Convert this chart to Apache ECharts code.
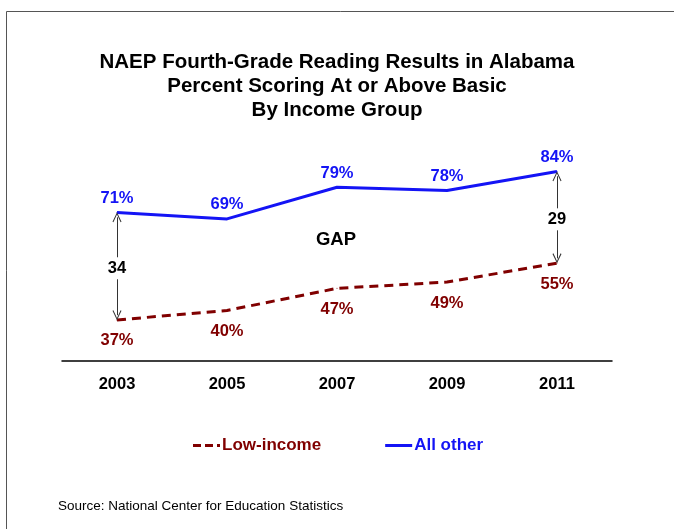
<!DOCTYPE html>
<html><head><meta charset="utf-8">
<script src="https://cdn.jsdelivr.net/npm/echarts@6/dist/echarts.min.js"></script>
<style>html,body{margin:0;padding:0;background:#fff}#c{width:674px;height:529px}</style>
</head><body><div id="c"></div>
<script>
const years = ['2003','2005','2007','2009','2011'];
const lowIncome = [37, 40, 47, 49, 55];
const allOther = [71, 69, 79, 78, 84];
const gapYears = ['2003','2011'];
const gapValues = [34, 29];

const F = "'Liberation Sans', Arial, sans-serif";
const BLUE = '#1414F5', RED = '#800000';
const chart = echarts.init(document.getElementById('c'));

const openArrow = 'path://M0,10 L5,0 L10,10 L9,10.6 L5,2.4 L1,10.6 Z';

const gapLines = gapYears.map((y) => {
  const idx = years.indexOf(y);
  return [
    {coord: [y, allOther[idx] - 1.5]},
    {coord: [y, lowIncome[idx] + 1.5]}
  ];
});
const gapPoints = gapYears.map((y, i) => {
  const idx = years.indexOf(y);
  return {coord: [y, (allOther[idx] + lowIncome[idx]) / 2], value: gapValues[i]};
});

chart.setOption({
  animation: false,
  title: {
    text: 'NAEP Fourth-Grade Reading Results in Alabama\nPercent Scoring At or Above Basic\nBy Income Group',
    left: 'center', top: 45,
    textStyle: {fontFamily: F, fontSize: 20.5, fontWeight: 'bold', color: '#000', lineHeight: 24}
  },
  grid: {left: 62, right: 62, top: 121, bottom: 168},
  xAxis: {
    type: 'category', data: years, boundaryGap: true,
    axisLine: {lineStyle: {color: '#000', width: 1.5}},
    axisTick: {show: false},
    axisLabel: {fontFamily: F, fontSize: 16.5, fontWeight: 'bold', color: '#000', margin: 15}
  },
  yAxis: {type: 'value', min: 24, max: 100, show: false},
  legend: {
    top: 432, left: 188, itemGap: 64, itemWidth: 27, itemHeight: 3,
    textStyle: {fontFamily: F, fontSize: 17, fontWeight: 'bold', padding: [0,0,0,-3]},
    data: [
      {name: 'Low-income', icon: 'path://M0,0 H8 V3 H0 Z M12,0 H20 V3 H12 Z M24,0 H27 V3 H24 Z', textStyle: {color: RED}},
      {name: 'All other', icon: 'path://M0,0 H27 V3 H0 Z', textStyle: {color: BLUE}}
    ]
  },
  graphic: [
    {type: 'rect', shape: {x: 6.5, y: 11.5, width: 700, height: 600}, style: {fill: 'none', stroke: '#555', lineWidth: 1}, silent: true},
    {type: 'text', left: 58, top: 499, style: {text: 'Source: National Center for Education Statistics', font: '13.5px ' + F, fill: '#000'}},
    {type: 'text', x: 336, y: 240, style: {text: 'GAP', font: 'bold 18.5px ' + F, fill: '#000', textAlign: 'center', textVerticalAlign: 'middle'}}
  ],
  series: [
    {
      name: 'Low-income', type: 'line', data: lowIncome, symbol: 'circle', symbolSize: 1,
      color: RED, itemStyle: {color: RED},
      lineStyle: {color: RED, width: 3, type: [9, 6]},
      label: {show: true, position: 'bottom', distance: 12, formatter: '{c}%', fontFamily: F, fontSize: 16.5, fontWeight: 'bold', color: RED}
    },
    {
      name: 'All other', type: 'line', data: allOther, symbol: 'circle', symbolSize: 1,
      color: BLUE, itemStyle: {color: BLUE},
      lineStyle: {color: BLUE, width: 3},
      label: {show: true, position: 'top', distance: 5, formatter: '{c}%', fontFamily: F, fontSize: 16.5, fontWeight: 'bold', color: BLUE},
      markLine: {
        silent: true, symbol: [openArrow, openArrow], symbolSize: [9, 10],
        lineStyle: {color: '#333', width: 1, type: 'solid'},
        label: {show: false},
        data: gapLines
      },
      markPoint: {
        silent: true, symbol: 'rect', symbolSize: [24, 22], symbolOffset: [0, 2],
        itemStyle: {color: '#fff'},
        label: {show: true, position: 'inside', formatter: '{c}', fontFamily: F, fontSize: 16.5, fontWeight: 'bold', color: '#000'},
        data: gapPoints
      }
    }
  ]
});
</script></body></html>
